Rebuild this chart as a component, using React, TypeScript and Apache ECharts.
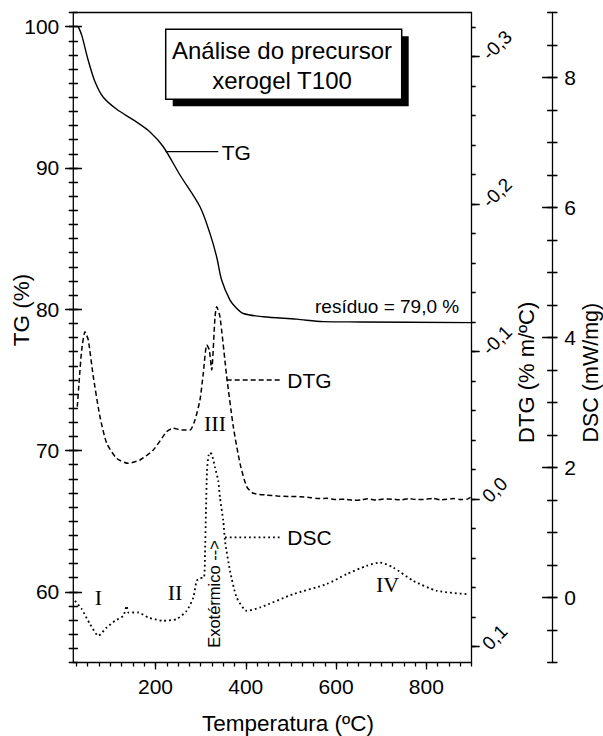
import React, { useEffect, useRef } from 'react';
import * as echarts from 'echarts';

// ---------- data ----------
const T_TG = [29, 36.6, 51.2, 66.1, 84.4, 114.1, 150.9, 187.9, 217.3, 254.3, 298.6, 320.8, 335.6, 346.7, 365.1, 379.1, 394.5, 438.8, 512.8, 571.7, 653, 900];
const TG = [100.0, 99.4, 97.6, 96.1, 95.0, 94.15, 93.4, 92.55, 91.5, 89.5, 87.25, 85.35, 83.7, 82.05, 80.65, 80.09, 79.7, 79.47, 79.3, 79.12, 79.1, 79.05];

const T_DTG = [26.9, 30.6, 36.6, 43.9, 51.2, 62.3, 77.1, 92, 114.1, 139.8, 165.7, 195.2, 224.9, 239.5, 258.1, 276.5, 287.5, 298.6, 305.9, 313.5, 319.2, 324.5, 331.9, 335.6, 342.9, 357.8, 372.4, 387.2, 402, 416.7, 446.3, 470, 495, 520, 545, 560, 580, 600, 620, 640, 655, 670, 690, 705, 725, 745, 760, 780, 800, 815, 830, 845, 860, 875, 890, 898];
const DTG = [-0.0627, -0.0786, -0.1012, -0.1136, -0.1079, -0.0831, -0.0559, -0.0379, -0.0277, -0.0243, -0.0266, -0.0333, -0.0458, -0.0481, -0.0469, -0.0469, -0.0537, -0.0673, -0.0854, -0.1046, -0.1012, -0.0876, -0.1237, -0.1305, -0.1237, -0.0831, -0.0492, -0.0243, -0.0085, -0.004, -0.0028, -0.0022, -0.0018, -0.0017, -0.001, -0.0004, -0.0006, 0.0002, 0.0, 0.0008, 0.0005, -0.0003, 0.0006, -0.0002, 0.0, 0.0004, -0.0004, 0.0003, 0.0, -0.0006, 0.0004, 0.0001, -0.0004, 0.0002, 0.0, -0.0012];

const T_DSC = [21.8, 36.6, 55, 73.4, 92, 110.4, 128.7, 136.3, 139.8, 162, 184.1, 217.3, 247, 269.2, 283.8, 291.3, 298.6, 307.5, 309.7, 311.9, 314.1, 317.4, 320.8, 325.2, 331.9, 339.1, 342.9, 350.2, 354, 365.1, 379.9, 402, 431.5, 505.3, 579.2, 623.5, 667.8, 697.3, 726.7, 771, 822.9, 889];
const DSC = [-0.051, -0.178, -0.409, -0.589, -0.462, -0.358, -0.282, -0.128, -0.231, -0.231, -0.308, -0.358, -0.332, -0.205, 0.0, 0.257, 0.298, 0.308, 0.672, 1.334, 1.949, 2.18, 2.231, 2.195, 2.0, 1.795, 1.534, 1.18, 0.872, 0.41, 0.0, -0.205, -0.154, 0.052, 0.206, 0.36, 0.488, 0.538, 0.462, 0.257, 0.103, 0.052];

const X_RANGE = [18, 900];
const X_MINOR = [25, 900];
const X_MAJOR = [200, 800];
const TG_RANGE = [55, 101];
const TG_MAJOR = [60, 100];
const DTG_RANGE = [-0.32, 0.1];
const DTG_MAJOR = [-0.3, 0.1];
const DSC_RANGE = [-1, 9];
const DSC_MAJOR = [0, 8];

const zip = (xs: number[], ys: number[]) => xs.map((x, i) => [x, ys[i]]);

const FONT = 'Liberation Sans, Arial, sans-serif';
const SERIF = 'Liberation Serif, Times New Roman, serif';
const BLACK = '#000';

export default function App() {
  const ref = useRef<HTMLDivElement>(null);
  useEffect(() => {
    document.body.style.margin = '0';
    const chart = echarts.init(ref.current!, null, { renderer: 'svg' });

    const L = 73.3, W = 398.2, TOP = 12.5, H = 650;
    const R = L + W;
    const DSC_OFF = 80.8;
    const pxX = W / (X_RANGE[1] - X_RANGE[0]);
    const xPx = (v: number) => L + (v - X_RANGE[0]) * pxX;
    const pxTG = H / (TG_RANGE[1] - TG_RANGE[0]);
    const yTG = (v: number) => TOP + (TG_RANGE[1] - v) * pxTG;
    const dtg0 = 56.7, pxDTG = 1475;
    const yDTG = (v: number) => dtg0 + (v - (-0.3)) * pxDTG;
    const pxDSC = H / (DSC_RANGE[1] - DSC_RANGE[0]);
    const yDSC = (v: number) => TOP + (DSC_RANGE[1] - v) * pxDSC;

    const mkTick = (len: number, inside: boolean) => ({ show: true, inside, length: len, lineStyle: { color: BLACK, width: 1.3 } });
    const hiddenX = (g: number) => ({ gridIndex: g, type: 'value', min: X_RANGE[0], max: X_RANGE[1], show: false });
    const hiddenY = (g: number) => ({ gridIndex: g, type: 'value', min: 0, max: 1, show: false });
    const mkGrid = (left: number, top: number, width: number, height: number, extra: any = {}) =>
      ({ left, top, width, height, outerBoundsMode: 'none', containLabel: false, ...extra });

    const baseY = (g: number, range: number[], interval: number, extra: any) => ({
      gridIndex: g,
      type: 'value',
      min: range[0],
      max: range[1],
      interval,
      axisLine: { show: false },
      splitLine: { show: false },
      axisLabel: { show: false },
      ...extra,
    });
    // tick marks drawn as split lines of a narrow grid straddling the axis
    const tickY = (g: number, range: number[], interval: number, inverse = false) => ({
      gridIndex: g,
      type: 'value',
      min: range[0],
      max: range[1],
      interval,
      inverse,
      axisLine: { show: false },
      axisTick: { show: false },
      axisLabel: { show: false },
      splitLine: { show: true, showMinLine: true, showMaxLine: true, lineStyle: { color: BLACK, width: 1.3, type: 'solid' } },
    });

    const grids = [
      mkGrid(L, TOP, W, H, { show: true, borderColor: BLACK, borderWidth: 1.3 }),
      mkGrid(L, yTG(TG_MAJOR[1]), W, yTG(TG_MAJOR[0]) - yTG(TG_MAJOR[1])),
      mkGrid(L, yDTG(DTG_RANGE[0]), W, yDTG(DTG_RANGE[1]) - yDTG(DTG_RANGE[0])),
      mkGrid(L, yDTG(DTG_MAJOR[0]), W, yDTG(DTG_MAJOR[1]) - yDTG(DTG_MAJOR[0])),
      mkGrid(L, yDSC(DSC_MAJOR[1]), W, yDSC(DSC_MAJOR[0]) - yDSC(DSC_MAJOR[1])),
      mkGrid(xPx(X_MINOR[0]), TOP, R - xPx(X_MINOR[0]), H),
      mkGrid(xPx(X_MAJOR[0]), TOP, xPx(X_MAJOR[1]) - xPx(X_MAJOR[0]), H),
      // narrow tick grids
      mkGrid(L - 4.5, TOP, 9, H),
      mkGrid(L - 8, yTG(TG_MAJOR[1]), 16.5, yTG(TG_MAJOR[0]) - yTG(TG_MAJOR[1])),
      mkGrid(R, yDTG(DTG_RANGE[0]), 4, yDTG(DTG_RANGE[1]) - yDTG(DTG_RANGE[0])),
      mkGrid(R, yDTG(DTG_MAJOR[0]), 8, yDTG(DTG_MAJOR[1]) - yDTG(DTG_MAJOR[0])),
      mkGrid(R + DSC_OFF - 5, TOP, 10, H),
      mkGrid(R + DSC_OFF - 10, yDSC(DSC_MAJOR[1]), 15, yDSC(DSC_MAJOR[0]) - yDSC(DSC_MAJOR[1])),
    ];

    const option: any = {
      animation: false,
      grid: grids,
      xAxis: [
        hiddenX(0), hiddenX(1), hiddenX(2), hiddenX(3), hiddenX(4),
        {
          gridIndex: 5, type: 'value', min: X_MINOR[0], max: X_MINOR[1], interval: 25,
          axisLine: { show: false }, splitLine: { show: false }, axisLabel: { show: false },
          axisTick: { show: true, length: 4, lineStyle: { color: BLACK, width: 1.3 } },
        },
        {
          gridIndex: 6, type: 'value', min: X_MAJOR[0], max: X_MAJOR[1], interval: 200,
          axisLine: { show: false }, splitLine: { show: false },
          axisTick: { show: true, length: 7, lineStyle: { color: BLACK, width: 1.3 } },
          axisLabel: { show: true, fontSize: 21, color: BLACK, margin: 13, fontFamily: FONT },
        },
        hiddenX(7), hiddenX(8), hiddenX(9), hiddenX(10), hiddenX(11), hiddenX(12),
      ],
      yAxis: [
        baseY(0, TG_RANGE, 1, { position: 'left', axisTick: mkTick(4.5, true) }),
        baseY(0, TG_RANGE, 1, { position: 'left', axisTick: mkTick(4.5, false) }),
        baseY(1, TG_MAJOR, 10, { position: 'left', axisTick: mkTick(8.5, true) }),
        baseY(1, TG_MAJOR, 10, {
          position: 'left', axisTick: mkTick(8, false),
          axisLabel: { show: true, fontSize: 21, color: BLACK, margin: 14, fontFamily: FONT },
        }),
        baseY(2, DTG_RANGE, 0.02, { position: 'right', inverse: true, axisTick: mkTick(4, false) }),
        baseY(3, DTG_MAJOR, 0.1, {
          position: 'right', inverse: true, axisTick: mkTick(8, false),
          axisLabel: {
            show: true, fontSize: 19, color: BLACK, margin: 14, rotate: 45, fontFamily: FONT,
            formatter: (v: number) => (Math.abs(v) < 1e-9 ? '0,0' : v.toFixed(1).replace('.', ',')),
          },
        }),
        baseY(0, DSC_RANGE, 0.5, {
          position: 'right', offset: DSC_OFF,
          axisLine: { show: true, onZero: false, lineStyle: { color: BLACK, width: 1.3 } },
          axisTick: mkTick(5, false),
        }),
        baseY(0, DSC_RANGE, 0.5, { position: 'right', offset: DSC_OFF, axisTick: mkTick(5, true) }),
        baseY(4, DSC_MAJOR, 2, {
          position: 'right', offset: DSC_OFF, axisTick: mkTick(10, true),
          axisLabel: { show: true, fontSize: 21, color: BLACK, margin: 12, fontFamily: FONT },
        }),
        hiddenY(5),
        hiddenY(6),
        tickY(7, TG_RANGE, 1),
        tickY(8, TG_MAJOR, 10),
        tickY(9, DTG_RANGE, 0.02, true),
        tickY(10, DTG_MAJOR, 0.1, true),
        tickY(11, DSC_RANGE, 0.5),
        tickY(12, DSC_MAJOR, 2),
      ],
      series: [
        {
          name: 'TG', type: 'line', xAxisIndex: 0, yAxisIndex: 0, data: zip(T_TG, TG),
          symbol: 'none', smooth: 0.3, clip: false,
          lineStyle: { color: BLACK, width: 1.4 },
        },
        {
          name: 'DTG', type: 'line', xAxisIndex: 2, yAxisIndex: 4, data: zip(T_DTG, DTG),
          symbol: 'none', smooth: 0.2, clip: false,
          lineStyle: { color: BLACK, width: 1.5, type: [5, 3] },
        },
        {
          name: 'DSC', type: 'line', xAxisIndex: 0, yAxisIndex: 6, data: zip(T_DSC, DSC),
          symbol: 'none', smooth: 0.2, clip: false,
          lineStyle: { color: BLACK, width: 1.8, type: [1.8, 3] },
        },
      ],
      graphic: {
        elements: [
          { type: 'rect', shape: { x: 172.7, y: 36.3, width: 236, height: 70 }, style: { fill: BLACK } },
          { type: 'rect', shape: { x: 165.7, y: 29.3, width: 236, height: 70 }, style: { fill: '#fff', stroke: BLACK, lineWidth: 1.5 } },
          { type: 'text', x: 282, y: 50, style: { text: 'Análise do precursor', fontSize: 24, fontFamily: FONT, fill: BLACK, align: 'center', verticalAlign: 'middle' } },
          { type: 'text', x: 282, y: 80, style: { text: 'xerogel T100', fontSize: 24, fontFamily: FONT, fill: BLACK, align: 'center', verticalAlign: 'middle' } },

          { type: 'line', shape: { x1: 165.7, y1: 151.7, x2: 218.3, y2: 151.7 }, style: { stroke: BLACK, lineWidth: 1.3 } },
          { type: 'text', x: 221.7, y: 152, style: { text: 'TG', fontSize: 21, fontFamily: FONT, fill: BLACK, align: 'left', verticalAlign: 'middle' } },
          { type: 'line', shape: { x1: 226.7, y1: 380, x2: 281.7, y2: 380 }, style: { stroke: BLACK, lineWidth: 1.5, lineDash: [5, 3] } },
          { type: 'text', x: 287.3, y: 380, style: { text: 'DTG', fontSize: 21, fontFamily: FONT, fill: BLACK, align: 'left', verticalAlign: 'middle' } },
          { type: 'line', shape: { x1: 225, y1: 537.3, x2: 281.7, y2: 537.3 }, style: { stroke: BLACK, lineWidth: 1.8, lineDash: [1.8, 3] } },
          { type: 'text', x: 287.3, y: 537.3, style: { text: 'DSC', fontSize: 21, fontFamily: FONT, fill: BLACK, align: 'left', verticalAlign: 'middle' } },
          { type: 'text', x: 315, y: 306, style: { text: 'resíduo = 79,0 %', fontSize: 19, fontFamily: FONT, fill: BLACK, align: 'left', verticalAlign: 'middle' } },
          { type: 'text', x: 214, y: 594, rotation: Math.PI / 2, style: { text: 'Exotérmico -->', fontSize: 16.5, fontFamily: FONT, fill: BLACK, align: 'center', verticalAlign: 'middle' } },

          { type: 'text', x: 98.3, y: 597, style: { text: 'I', fontSize: 22, fontFamily: SERIF, fill: BLACK, align: 'center', verticalAlign: 'middle' } },
          { type: 'text', x: 175, y: 592.7, style: { text: 'II', fontSize: 22, fontFamily: SERIF, fill: BLACK, align: 'center', verticalAlign: 'middle' } },
          { type: 'text', x: 215, y: 423.3, style: { text: 'III', fontSize: 22, fontFamily: SERIF, fill: BLACK, align: 'center', verticalAlign: 'middle' } },
          { type: 'text', x: 387.5, y: 584, style: { text: 'IV', fontSize: 22, fontFamily: SERIF, fill: BLACK, align: 'center', verticalAlign: 'middle' } },

          { type: 'text', x: 21.7, y: 310, rotation: Math.PI / 2, style: { text: 'TG (%)', fontSize: 22.5, fontFamily: FONT, fill: BLACK, align: 'center', verticalAlign: 'middle' } },
          { type: 'text', x: 526.7, y: 372.3, rotation: Math.PI / 2, style: { text: 'DTG (% m/ºC)', fontSize: 22, fontFamily: FONT, fill: BLACK, align: 'center', verticalAlign: 'middle' } },
          { type: 'text', x: 590.5, y: 372.7, rotation: Math.PI / 2, style: { text: 'DSC (mW/mg)', fontSize: 21.5, fontFamily: FONT, fill: BLACK, align: 'center', verticalAlign: 'middle' } },
          { type: 'text', x: 288, y: 723, style: { text: 'Temperatura (ºC)', fontSize: 22.5, fontFamily: FONT, fill: BLACK, align: 'center', verticalAlign: 'middle' } },
        ],
      },
    };

    chart.setOption(option);
    return () => chart.dispose();
  }, []);
  return <div ref={ref} style={{ width: 603, height: 736 }} />;
}
